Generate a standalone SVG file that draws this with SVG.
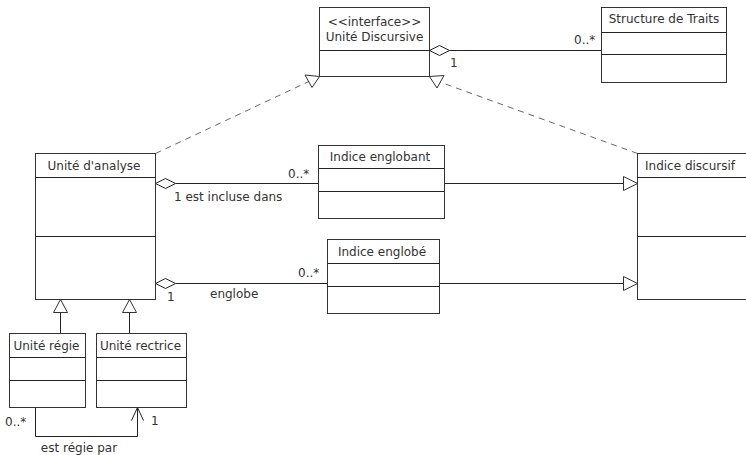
<svg xmlns="http://www.w3.org/2000/svg" width="746" height="455" viewBox="0 0 746 455">
<style>
.box{fill:#fff;stroke:#333;stroke-width:1}
.ln{fill:none;stroke:#222;stroke-width:1}
.dash{fill:none;stroke:#666;stroke-width:1;stroke-dasharray:6,5}
.tri{fill:#fff;stroke:#333;stroke-width:1}
.dia{fill:#fff;stroke:#222;stroke-width:1}
text{font-family:"DejaVu Sans","Liberation Sans",sans-serif;font-size:12px;fill:#333}
.c{text-anchor:middle}
</style>
<rect width="746" height="455" fill="#fff"/>
<g id="connectors">
  <line class="dash" x1="155.5" y1="153.5" x2="312" y2="80"/>
  <polygon class="tri" points="319.5,76.5 305,75 312,87.5"/>
  <line class="dash" x1="637.5" y1="153.5" x2="437" y2="81"/>
  <polygon class="tri" points="429.5,76.5 437,88 444,75.5"/>
  <polygon class="dia" points="429.5,50.5 439.5,45.5 449.5,50.5 439.5,55.5"/>
  <line class="ln" x1="449.5" y1="50.5" x2="601.5" y2="50.5"/>
  <text x="450" y="67">1</text>
  <text x="574" y="44">0..*</text>
  <polygon class="dia" points="155.5,183.5 165.5,178.5 175.5,183.5 165.5,188.5"/>
  <line class="ln" x1="175.5" y1="183.5" x2="318.5" y2="183.5"/>
  <text x="174" y="201">1  est incluse dans</text>
  <text x="288" y="178">0..*</text>
  <polygon class="dia" points="155.5,283.5 165.5,278.5 175.5,283.5 165.5,288.5"/>
  <line class="ln" x1="175.5" y1="283.5" x2="327.5" y2="283.5"/>
  <text x="167" y="301">1</text>
  <text x="210" y="298">englobe</text>
  <text x="298" y="277">0..*</text>
  <line class="ln" x1="444.5" y1="183.5" x2="624" y2="183.5"/>
  <polygon class="tri" points="637.5,183.5 623.5,176.5 623.5,190.5"/>
  <line class="ln" x1="439.5" y1="283.5" x2="624" y2="283.5"/>
  <polygon class="tri" points="637.5,283.5 623.5,276.5 623.5,290.5"/>
  <line class="ln" x1="60.5" y1="312" x2="60.5" y2="333.5"/>
  <polygon class="tri" points="60.5,299.5 53.5,312.5 67.5,312.5"/>
  <line class="ln" x1="129.5" y1="312" x2="129.5" y2="333.5"/>
  <polygon class="tri" points="129.5,299.5 122.5,312.5 136.5,312.5"/>
  <polyline class="ln" points="35.5,407.5 35.5,436.5 137.5,436.5 137.5,407.5"/>
  <polyline class="ln" points="131.5,420.5 137.5,407.5 143.5,420.5"/>
  <text x="5" y="426">0..*</text>
  <text x="151" y="425">1</text>
  <text x="79" y="452" class="c">est régie par</text>
</g>
<g id="unite-discursive">
  <rect class="box" x="319.5" y="7.5" width="110" height="69"/>
  <line class="ln" x1="319.5" y1="50.5" x2="429.5" y2="50.5"/>
  <text x="374.5" y="26" class="c">&lt;&lt;interface&gt;&gt;</text>
  <text x="374.5" y="41" class="c">Unité Discursive</text>
</g>
<g id="structure-de-traits">
  <rect class="box" x="601.5" y="7.5" width="125" height="75"/>
  <line class="ln" x1="601.5" y1="32.5" x2="726.5" y2="32.5"/>
  <line class="ln" x1="601.5" y1="54.5" x2="726.5" y2="54.5"/>
  <text x="664" y="23" class="c">Structure de Traits</text>
</g>
<g id="unite-analyse">
  <rect class="box" x="35.5" y="153.5" width="120" height="146"/>
  <line class="ln" x1="35.5" y1="177.5" x2="155.5" y2="177.5"/>
  <line class="ln" x1="35.5" y1="236.5" x2="155.5" y2="236.5"/>
  <text x="94" y="170" class="c">Unité d'analyse</text>
</g>
<g id="indice-englobant">
  <rect class="box" x="318.5" y="145.5" width="126" height="73"/>
  <line class="ln" x1="318.5" y1="168.5" x2="444.5" y2="168.5"/>
  <line class="ln" x1="318.5" y1="191.5" x2="444.5" y2="191.5"/>
  <text x="380" y="161" class="c">Indice englobant</text>
</g>
<g id="indice-englobe">
  <rect class="box" x="327.5" y="239.5" width="112" height="74"/>
  <line class="ln" x1="327.5" y1="263.5" x2="439.5" y2="263.5"/>
  <line class="ln" x1="327.5" y1="286.5" x2="439.5" y2="286.5"/>
  <text x="382" y="256" class="c">Indice englobé</text>
</g>
<g id="indice-discursif">
  <rect class="box" x="637.5" y="153.5" width="120" height="146"/>
  <line class="ln" x1="637.5" y1="177.5" x2="757.5" y2="177.5"/>
  <line class="ln" x1="637.5" y1="236.5" x2="757.5" y2="236.5"/>
  <text x="645" y="170">Indice discursif</text>
</g>
<g id="unite-regie">
  <rect class="box" x="9.5" y="333.5" width="76" height="74"/>
  <line class="ln" x1="9.5" y1="357.5" x2="85.5" y2="357.5"/>
  <line class="ln" x1="9.5" y1="380.5" x2="85.5" y2="380.5"/>
  <text x="46.5" y="350" class="c">Unité régie</text>
</g>
<g id="unite-rectrice">
  <rect class="box" x="96.5" y="333.5" width="90" height="74"/>
  <line class="ln" x1="96.5" y1="357.5" x2="186.5" y2="357.5"/>
  <line class="ln" x1="96.5" y1="380.5" x2="186.5" y2="380.5"/>
  <text x="140.5" y="350" class="c">Unité rectrice</text>
</g>
</svg>
